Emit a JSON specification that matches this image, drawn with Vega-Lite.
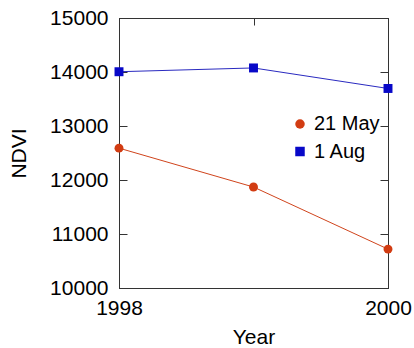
{
  "$schema": "https://vega.github.io/schema/vega-lite/v6.json",
  "autosize": "none",
  "width": 269,
  "height": 270,
  "padding": {"left": 119, "top": 18, "right": 26, "bottom": 60},
  "background": "white",
  "config": {
    "font": "Liberation Sans",
    "view": {"stroke": "#333333", "strokeWidth": 1},
    "axis": {
      "grid": false,
      "domainColor": "#333333",
      "tickColor": "#333333",
      "labelColor": "black",
      "titleColor": "black",
      "labelFontSize": 21,
      "titleFontSize": 21,
      "titleFontWeight": "normal",
      "labelFlush": false
    },
    "legend": {
      "labelFont": "Liberation Sans",
      "labelFontSize": 20,
      "labelColor": "black"
    }
  },
  "data": {
    "values": [
      {"year": 1998, "ndvi": 12590, "date": "21 May"},
      {"year": 1999, "ndvi": 11870, "date": "21 May"},
      {"year": 2000, "ndvi": 10720, "date": "21 May"},
      {"year": 1998, "ndvi": 14005, "date": "1 Aug"},
      {"year": 1999, "ndvi": 14075, "date": "1 Aug"},
      {"year": 2000, "ndvi": 13695, "date": "1 Aug"}
    ]
  },
  "layer": [
    {
      "transform": [{"filter": "datum.date === '21 May'"}],
      "mark": {"type": "line", "strokeWidth": 1, "color": "#d0441c"},
      "encoding": {
        "x": {
          "field": "year", "type": "quantitative",
          "scale": {"domain": [1998, 2000], "nice": false, "zero": false},
          "axis": {"title": "Year", "values": [1998, 1999, 2000], "format": "d",
                   "tickSize": -7, "labelPadding": 16, "titlePadding": 8}
        },
        "y": {
          "field": "ndvi", "type": "quantitative",
          "scale": {"domain": [10000, 15000], "nice": false, "zero": false},
          "axis": {"title": "NDVI", "values": [10000, 11000, 12000, 13000, 14000, 15000],
                   "format": "d", "tickSize": -8, "labelPadding": 19, "titlePadding": 20}
        }
      }
    },
    {
      "mark": {"type": "point", "opacity": 0},
      "encoding": {
        "x": {"field": "year", "type": "quantitative",
              "axis": {"orient": "top", "labels": false, "title": null, "values": [1998, 1999, 2000], "tickSize": -7}},
        "y": {"field": "ndvi", "type": "quantitative",
              "axis": {"orient": "right", "labels": false, "title": null, "values": [10000, 11000, 12000, 13000, 14000, 15000], "tickSize": -8}}
      }
    },
    {
      "transform": [{"filter": "datum.date === '1 Aug'"}],
      "mark": {"type": "line", "strokeWidth": 1, "color": "#2a2ac0"},
      "encoding": {
        "x": {"field": "year", "type": "quantitative", "axis": null},
        "y": {"field": "ndvi", "type": "quantitative", "axis": null}
      }
    },
    {
      "mark": {"type": "point", "filled": true, "opacity": 1, "size": 80},
      "encoding": {
        "x": {"field": "year", "type": "quantitative", "axis": null},
        "y": {"field": "ndvi", "type": "quantitative", "axis": null},
        "color": {
          "field": "date", "type": "nominal",
          "scale": {"domain": ["21 May", "1 Aug"], "range": ["#d23c12", "#0808c8"]},
          "legend": {
            "title": null, "orient": "none", "legendX": 171, "legendY": 96,
            "symbolSize": 90, "rowPadding": 7.5, "labelOffset": 4, "padding": 0
          }
        },
        "shape": {
          "field": "date", "type": "nominal",
          "scale": {"domain": ["21 May", "1 Aug"], "range": ["circle", "square"]}
        }
      }
    }
  ],
  "resolve": {"axis": {"x": "independent", "y": "independent"}}
}
